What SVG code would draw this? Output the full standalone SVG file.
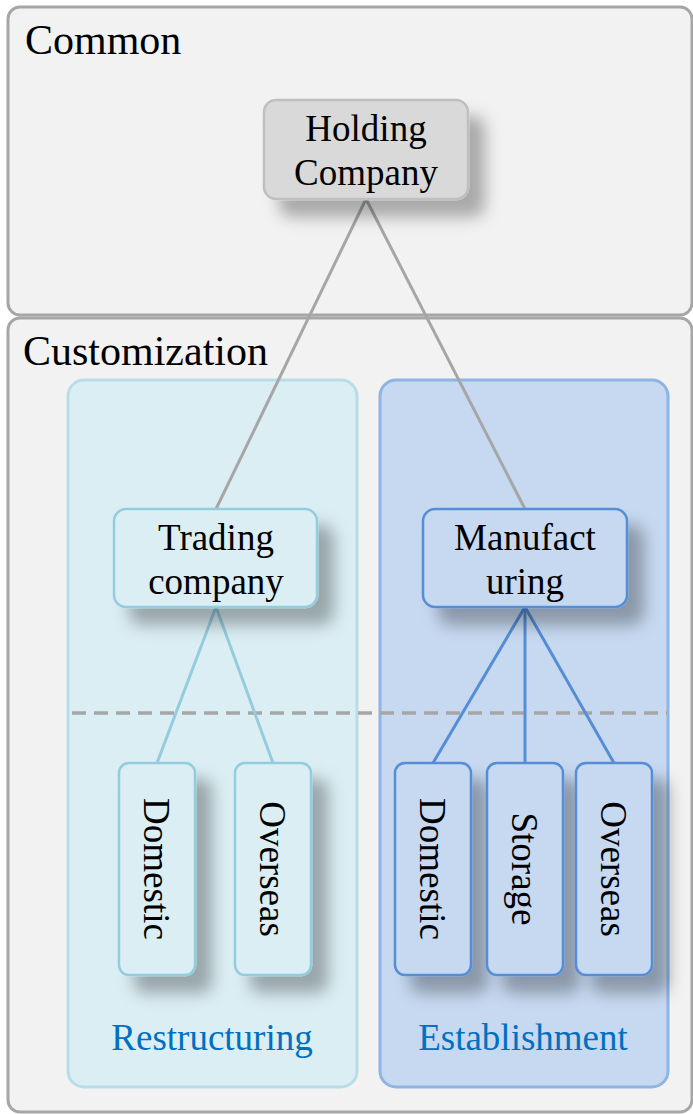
<svg xmlns="http://www.w3.org/2000/svg" width="693" height="1114" viewBox="0 0 693 1114">
  <defs>
    <filter id="shadow" x="-50%" y="-50%" width="220%" height="220%">
      <feDropShadow dx="16" dy="17" stdDeviation="8" flood-color="#000" flood-opacity="0.3"/>
    </filter>
  </defs>
  <style>
    text { font-family: 'Liberation Serif', 'Times New Roman', serif; fill: #000; }
    .title { font-size: 42px; }
    .lbl { font-size: 37px; text-anchor: middle; }
    .grp-lbl { font-size: 37px; text-anchor: middle; fill: #0070c0; }
    .layer { fill: #f2f2f2; stroke: #a6a6a6; stroke-width: 3; }
    .restr { fill: #dbeef4; stroke: #b7dee8; stroke-width: 3; }
    .estab { fill: #c6d9f1; stroke: #8eb4e3; stroke-width: 3; }
    .n-hold { fill: #d9d9d9; stroke: #bfbfbf; stroke-width: 2.5; }
    .n-trade { fill: #dbeef4; stroke: #93cddd; stroke-width: 2.5; }
    .n-manu { fill: #c6d9f1; stroke: #558ed5; stroke-width: 2.5; }
    .c-gray { stroke: #a6a6a6; stroke-width: 3; fill: none; }
    .c-cyan { stroke: #93cddd; stroke-width: 3; fill: none; }
    .c-blue { stroke: #558ed5; stroke-width: 3; fill: none; }
    .divider { stroke: #a6a6a6; stroke-width: 3.5; stroke-dasharray: 14 8; fill: none; }
  </style>

  <!-- layers -->
  <g id="layer-common">
    <rect class="layer" x="8" y="7" width="684" height="308" rx="12"/>
    <text class="title" x="25" y="54">Common</text>
  </g>
  <g id="layer-customization">
    <rect class="layer" x="8" y="318" width="684" height="794" rx="12"/>
    <text class="title" x="23" y="365">Customization</text>
  </g>

  <!-- groups -->
  <g id="group-restructuring">
    <rect class="restr" x="68" y="380" width="289" height="707" rx="16"/>
    <text class="grp-lbl" x="212" y="1050">Restructuring</text>
  </g>
  <g id="group-establishment">
    <rect class="estab" x="380" y="380" width="288" height="707" rx="16"/>
    <text class="grp-lbl" x="523" y="1050">Establishment</text>
  </g>

  <line class="divider" x1="72" y1="713" x2="667" y2="713"/>

  <!-- connectors -->
  <g id="connectors">
    <line class="c-gray" x1="366" y1="199" x2="216" y2="509"/>
    <line class="c-gray" x1="366" y1="199" x2="525" y2="509"/>
    <line class="c-cyan" x1="216" y1="607" x2="157" y2="763"/>
    <line class="c-cyan" x1="216" y1="607" x2="273" y2="763"/>
    <line class="c-blue" x1="525" y1="607" x2="433" y2="763"/>
    <line class="c-blue" x1="525" y1="607" x2="525" y2="763"/>
    <line class="c-blue" x1="525" y1="607" x2="614" y2="763"/>
  </g>

  <!-- nodes -->
  <g id="node-holding">
    <rect class="n-hold" x="264" y="100" width="204" height="99" rx="12" filter="url(#shadow)"/>
    <text class="lbl" x="366" y="141">Holding</text>
    <text class="lbl" x="366" y="185">Company</text>
  </g>
  <g id="node-trading">
    <rect class="n-trade" x="114" y="509" width="203" height="98" rx="12" filter="url(#shadow)"/>
    <text class="lbl" x="216" y="550">Trading</text>
    <text class="lbl" x="216" y="594">company</text>
  </g>
  <g id="node-manufacturing">
    <rect class="n-manu" x="423" y="509" width="204" height="98" rx="12" filter="url(#shadow)"/>
    <text class="lbl" x="525" y="550">Manufact</text>
    <text class="lbl" x="525" y="594">uring</text>
  </g>

  <g id="node-trading-domestic">
    <rect class="n-trade" x="119" y="763" width="76" height="212" rx="10" filter="url(#shadow)"/>
    <text class="lbl" transform="translate(157,869) rotate(90)" y="13">Domestic</text>
  </g>
  <g id="node-trading-overseas">
    <rect class="n-trade" x="235" y="763" width="76" height="212" rx="10" filter="url(#shadow)"/>
    <text class="lbl" transform="translate(273,869) rotate(90)" y="13">Overseas</text>
  </g>
  <g id="node-manu-domestic">
    <rect class="n-manu" x="395" y="763" width="76" height="212" rx="10" filter="url(#shadow)"/>
    <text class="lbl" transform="translate(433,869) rotate(90)" y="13">Domestic</text>
  </g>
  <g id="node-manu-storage">
    <rect class="n-manu" x="487" y="763" width="76" height="212" rx="10" filter="url(#shadow)"/>
    <text class="lbl" transform="translate(525,869) rotate(90)" y="13">Storage</text>
  </g>
  <g id="node-manu-overseas">
    <rect class="n-manu" x="576" y="763" width="76" height="212" rx="10" filter="url(#shadow)"/>
    <text class="lbl" transform="translate(614,869) rotate(90)" y="13">Overseas</text>
  </g>
</svg>
